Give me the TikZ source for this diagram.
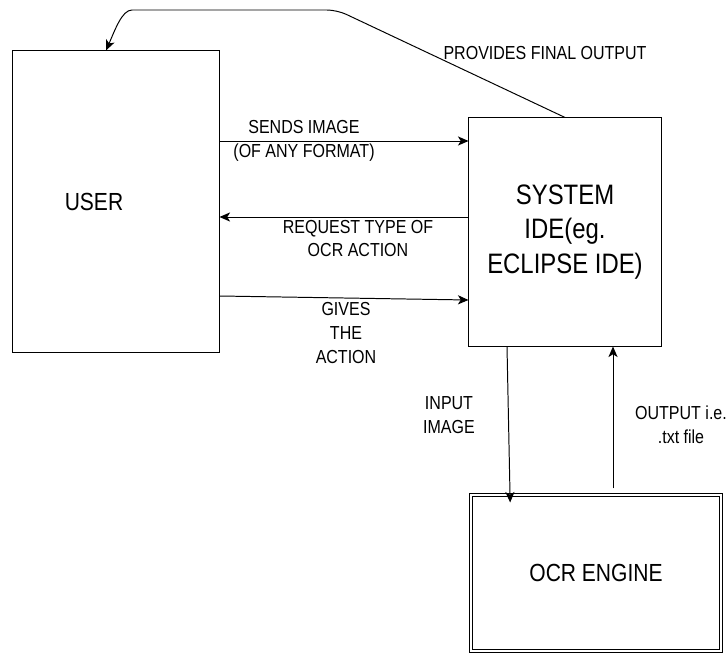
\documentclass[tikz,border=0pt]{standalone}
\usepackage{fontspec}
\setmainfont{Liberation Sans}[FakeStretch=0.85]
\usepackage{tikz}
\usetikzlibrary{arrows.meta,positioning,calc}

\begin{document}
\begin{tikzpicture}[
  x=0.025cm, y=-0.025cm,
  line width=0.7pt,
  box/.style={draw, inner sep=0pt, align=center, font=\fontsize{17.6}{24}\selectfont},
  ocrbox/.style={box, double, double distance=1.6pt},
  lbl/.style={inner sep=0pt, align=center, font=\fontsize{13.4}{17}\selectfont},
  arrow/.style={-{Stealth[length=7.5pt, width=6.5pt, inset=2pt]}}
]
\useasboundingbox (0,0) rectangle (727,655);
\node[box, minimum width=5.15cm, minimum height=7.525cm,
      label={[xshift=-0.55cm, font=\fontsize{17.6}{24}\selectfont]center:USER}] (USER) at (116,201.5) {};
\node[box, minimum width=4.8cm, minimum height=5.7cm, font=\fontsize{20}{24.5}\selectfont] (SYSTEM) at (565,232) {SYSTEM\\IDE(eg.\\ECLIPSE IDE)};
\node[ocrbox, minimum width=6.25cm, minimum height=3.9cm] (OCR) at (596,573) {OCR ENGINE};
\coordinate (usertop) at (USER.north -| 106,0);

\node[lbl] (provides) at (545,53) {PROVIDES FINAL OUTPUT};
\node[lbl] (sends)    at (304,141) {SENDS IMAGE\\(OF ANY FORMAT)};
\node[lbl] (request)  at (358,238.5) {REQUEST TYPE OF\\OCR ACTION};
\node[lbl] (gives)    at (346,333) {GIVES\\THE\\ACTION};
\node[lbl] (input)    at (449,415) {INPUT\\IMAGE};
\node[lbl] (output)   at (681,424.5) {OUTPUT i.e.\\.txt file};

\draw[arrow, rounded corners=0.25cm] (SYSTEM.north) -- (337,10) -- (142,10)
  .. controls (122,10) and (115,30) .. (usertop);
\draw[arrow] (USER.east |- 0,141) -- (SYSTEM.west |- 0,141);
\draw[arrow] (SYSTEM.west |- 0,217) -- (USER.east |- 0,217);
\draw[arrow] (USER.east |- 0,296) -- (SYSTEM.west |- 0,300);
\draw[arrow, shorten >=-0.2cm] (SYSTEM.south -| 507,0) -- (OCR.north -| 510,0);
\draw[arrow, shorten <=0.15cm] (OCR.north -| 613,0) -- (SYSTEM.south -| 613,0);
\end{tikzpicture}
\end{document}
